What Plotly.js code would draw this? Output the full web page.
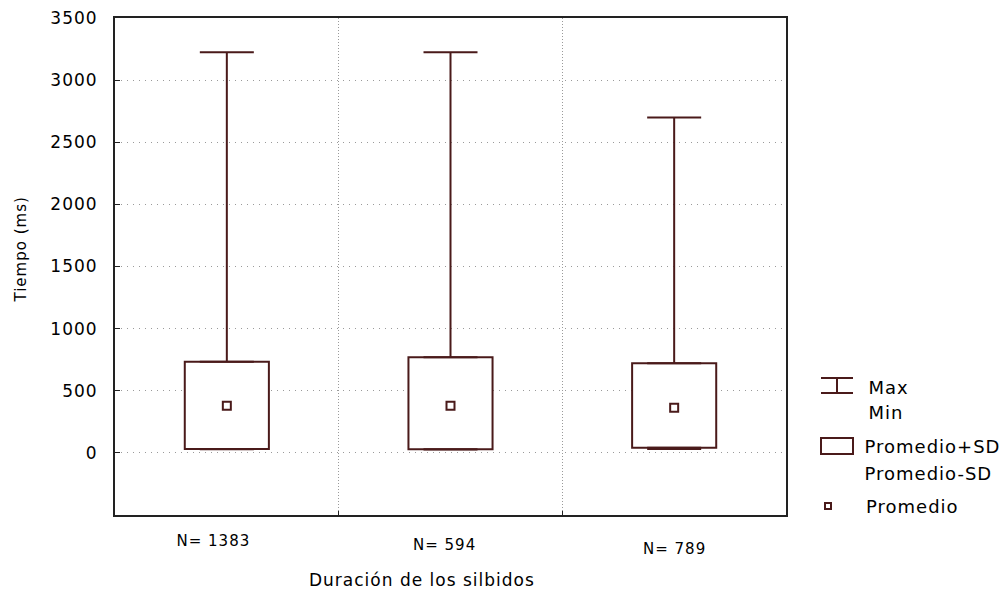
<!DOCTYPE html>
<html>
<head>
<meta charset="utf-8">
<script src="https://cdn.plot.ly/plotly-3.0.1.min.js"></script>
<style>
  html, body { margin: 0; padding: 0; background: #fff; }
  #chart { width: 1007px; height: 597px; }
  .main-svg text { letter-spacing: 1px; }
</style>
</head>
<body>
<div id="chart"></div>
<script>
// ---- Data ----
const categories = ['N= 1383', 'N= 594', 'N= 789'];
const maxVals    = [3225, 3225, 2700];
const minVals    = [30, 28, 31];
const sdUpper    = [734, 769, 721];   // Promedio+SD
const sdLower    = [31, 29, 42];      // Promedio-SD
const meanVals   = [380, 380, 364];   // Promedio
const yTickVals  = [0, 500, 1000, 1500, 2000, 2500, 3000, 3500];
const xTitle = 'Duración de los silbidos';
const yTitle = 'Tiempo (ms)';
const legendWhisker = ['Max', 'Min'];
const legendBox = ['Promedio+SD', 'Promedio-SD'];
const legendMean = 'Promedio';

// ---- Styling ----
const DARK = '#4a1a1a';
const FONT = 'DejaVu Sans, Verdana, sans-serif';
const W = 1007, H = 597;
const M = {l: 115, r: 221, t: 18, b: 82};
const px2x = px => (px - M.l) / (W - M.l - M.r);
const px2y = py => (H - M.b - py) / (H - M.t - M.b);

const boxTrace = {
  type: 'bar',
  x: categories,
  base: sdLower,
  y: sdUpper.map((u, i) => u - sdLower[i]),
  width: 0.376,
  marker: {color: '#ffffff', line: {color: DARK, width: 2}},
  hoverinfo: 'skip'
};

const upperWhisker = {
  type: 'scatter', mode: 'markers',
  x: categories, y: sdUpper,
  marker: {opacity: 0, size: 1},
  error_y: {type: 'data', symmetric: false,
    array: maxVals.map((m, i) => m - sdUpper[i]),
    arrayminus: categories.map(() => 0),
    color: DARK, thickness: 2, width: 27},
  hoverinfo: 'skip'
};

const lowerWhisker = {
  type: 'scatter', mode: 'markers',
  x: categories, y: sdLower,
  marker: {opacity: 0, size: 1},
  error_y: {type: 'data', symmetric: false,
    array: categories.map(() => 0),
    arrayminus: sdLower.map((l, i) => l - minVals[i]),
    color: DARK, thickness: 2, width: 27},
  hoverinfo: 'skip'
};

const meanTrace = {
  type: 'scatter', mode: 'markers',
  x: categories, y: meanVals,
  marker: {symbol: 'square', size: 8, color: '#ffffff', line: {color: DARK, width: 2}},
  hoverinfo: 'skip'
};

// x category labels (staggered as in the reference)
const labelShiftX = [-13, -6, 0];
const labelPy = [541, 545, 549];
const annotations = categories.map((c, i) => ({
  xref: 'x', yref: 'paper', x: c, y: px2y(labelPy[i]),
  xshift: labelShiftX[i], xanchor: 'center', yanchor: 'middle',
  text: c, showarrow: false, font: {family: FONT, size: 15, color: '#000'}
}));

// axis titles
annotations.push({xref: 'paper', yref: 'paper', x: px2x(422), y: px2y(580),
  xanchor: 'center', yanchor: 'middle', text: xTitle, showarrow: false,
  font: {family: FONT, size: 17, color: '#000'}});
annotations.push({xref: 'paper', yref: 'paper', x: px2x(21), y: px2y(250),
  xanchor: 'center', yanchor: 'middle', text: yTitle, showarrow: false, textangle: -90,
  font: {family: FONT, size: 15, color: '#000'}});

// legend texts
const legFont = {family: FONT, size: 18, color: '#000'};
const legTexts = [
  [legendWhisker[0], 387], [legendWhisker[1], 412],
  [legendBox[0], 446], [legendBox[1], 473],
  [legendMean, 506]
];
legTexts.forEach(([t, py]) => annotations.push({
  xref: 'paper', yref: 'paper', x: px2x(868), y: px2y(py),
  xanchor: 'left', yanchor: 'middle', text: t, showarrow: false, font: legFont
}));

// legend symbols
const shapes = [
  {type: 'line', xref: 'paper', yref: 'paper', x0: px2x(821), x1: px2x(853), y0: px2y(378), y1: px2y(378), line: {color: DARK, width: 2}},
  {type: 'line', xref: 'paper', yref: 'paper', x0: px2x(837), x1: px2x(837), y0: px2y(378), y1: px2y(393), line: {color: DARK, width: 2}},
  {type: 'line', xref: 'paper', yref: 'paper', x0: px2x(821), x1: px2x(853), y0: px2y(393), y1: px2y(393), line: {color: DARK, width: 2}},
  {type: 'rect', xref: 'paper', yref: 'paper', x0: px2x(821), x1: px2x(853), y0: px2y(438), y1: px2y(454), line: {color: DARK, width: 2}, fillcolor: '#fff'},
  {type: 'rect', xref: 'paper', yref: 'paper', x0: px2x(825), x1: px2x(831), y0: px2y(503), y1: px2y(509), line: {color: DARK, width: 2}, fillcolor: '#fff'}
];

const layout = {
  width: W, height: H,
  margin: M,
  paper_bgcolor: '#ffffff', plot_bgcolor: '#ffffff',
  showlegend: false, hovermode: false,
  font: {family: FONT, color: '#000'},
  xaxis: {
    type: 'category', range: [-0.5, 2.5],
    showticklabels: false,
    tickson: 'boundaries', ticks: 'inside', ticklen: 4, tickcolor: '#222', tickwidth: 1,
    showgrid: true, gridcolor: '#9a9a9a', gridwidth: 1, griddash: '1px,2px',
    showline: true, linecolor: '#222', linewidth: 2, mirror: true,
    zeroline: false, fixedrange: true
  },
  yaxis: {
    range: [-500, 3500],
    tickmode: 'array', tickvals: yTickVals, ticktext: yTickVals.map(String),
    ticks: 'inside', ticklen: 5, tickcolor: '#222', tickwidth: 1,
    ticklabelstandoff: 12,
    tickfont: {family: FONT, size: 17, color: '#000'},
    showgrid: true, gridcolor: '#9a9a9a', gridwidth: 1, griddash: '1px,5px',
    showline: true, linecolor: '#222', linewidth: 2, mirror: true,
    zeroline: false, fixedrange: true
  },
  annotations: annotations,
  shapes: shapes
};

Plotly.newPlot('chart', [boxTrace, upperWhisker, lowerWhisker, meanTrace], layout,
  {staticPlot: true, displayModeBar: false});
</script>
</body>
</html>
